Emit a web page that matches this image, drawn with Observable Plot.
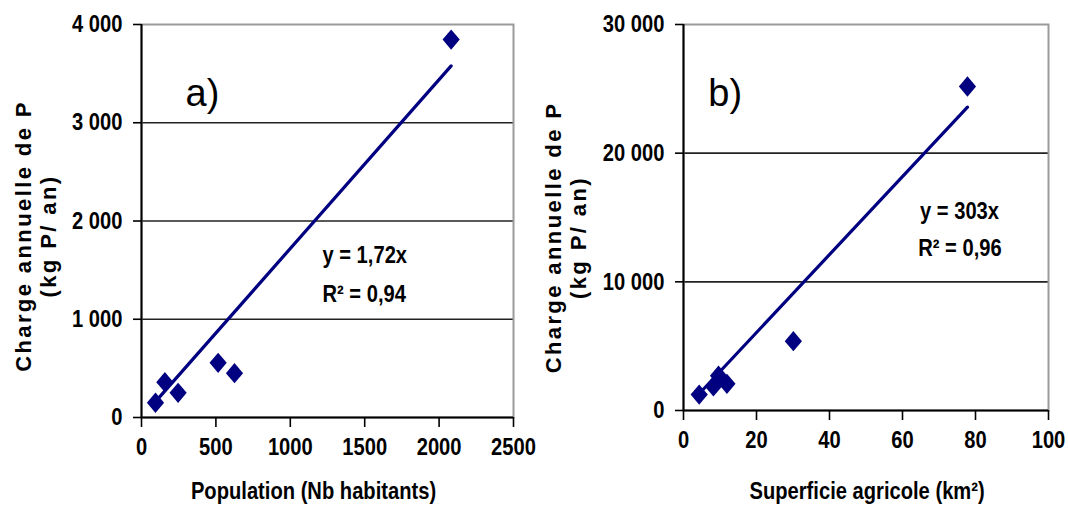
<!DOCTYPE html>
<html>
<head>
<meta charset="utf-8">
<script src="https://cdn.jsdelivr.net/npm/d3@7"></script>
<script src="https://cdn.jsdelivr.net/npm/@observablehq/plot@0.6"></script>
<style>
  html, body { margin: 0; padding: 0; background: white; }
  #wrap { display: flex; width: 1068px; height: 516px; overflow: hidden; background: white; }
  #wrap svg { overflow: visible; }
</style>
</head>
<body>
<div id="wrap"></div>
<script>
// ---- Panel a) data ----
const popA = [94, 157, 246, 515, 625, 2081];
const chargeA = [150, 360, 251, 557, 451, 3847];
const slopeA = 1.72;
const eqA = ["y = 1,72x", "R² = 0,94"];
const xTicksA = [0, 500, 1000, 1500, 2000, 2500];
const yTicksA = [0, 1000, 2000, 3000, 4000];
const yLabelsA = ["0", "1 000", "2 000", "3 000", "4 000"];

// ---- Panel b) data ----
const surfB = [4.3, 8.2, 9.6, 11.9, 30.1, 77.8];
const chargeB = [1240, 1870, 2700, 2075, 5386, 25180];
const slopeB = 303;
const eqB = ["y = 303x", "R² = 0,96"];
const xTicksB = [0, 20, 40, 60, 80, 100];
const yTicksB = [0, 10000, 20000, 30000];
const yLabelsB = ["0", "10 000", "20 000", "30 000"];

const yTitle = "Charge annuelle de P\n(kg P/ an)";
const xTitleA = "Population (Nb habitants)";
const xTitleB = "Superficie agricole (km²)";

const font = "'Liberation Sans', Arial, sans-serif";
const navy = "#000080";
const squeeze = 0.84;

const diamond = {
  draw(ctx, size) {
    const r = Math.sqrt(size / Math.PI);
    const w = r, h = r * 1.18;
    ctx.moveTo(0, -h); ctx.lineTo(w, 0); ctx.lineTo(0, h); ctx.lineTo(-w, 0); ctx.closePath();
  }
};

function panel(cfg) {
  const pts = cfg.xs.map((x, i) => ({x, y: cfg.ys[i]}));
  const xmin = d3.min(cfg.xs), xmax = d3.max(cfg.xs);
  const fit = [xmin, xmax].map(x => ({x, y: cfg.slope * x}));
  const labelMap = new Map(cfg.yTicks.map((t, i) => [t, cfg.yLabels[i]]));
  const svg = Plot.plot({
    width: 534, height: 516,
    marginLeft: cfg.ml, marginRight: cfg.mr, marginTop: 24, marginBottom: cfg.mb,
    style: {fontFamily: font, fontSize: "24px", fontWeight: "bold", background: "none", color: "black", overflow: "visible"},
    x: {domain: cfg.xDomain},
    y: {domain: cfg.yDomain},
    marks: [
      Plot.gridY(cfg.yTicks.slice(1, -1), {stroke: "#222", strokeOpacity: 1, strokeWidth: 1.6}),
      Plot.frame({stroke: "#9a9a9a", strokeWidth: 2}),
      Plot.ruleX([cfg.xDomain[0]], {stroke: "black", strokeWidth: 2}),
      Plot.ruleY([cfg.yDomain[0]], {stroke: "black", strokeWidth: 2}),
      Plot.axisX(cfg.xTicks, {tickSize: 10, tickPadding: 10, label: null, stroke: "black", strokeWidth: 1.6, fill: "black", tickFormat: d => String(d)}),
      Plot.axisY(cfg.yTicks, {tickSize: 8, tickPadding: 11, label: null, stroke: "black", strokeWidth: 1.6, fill: "black", tickFormat: d => labelMap.get(d)}),
      Plot.line(fit, {x: "x", y: "y", stroke: navy, strokeWidth: 3.2}),
      Plot.dot(pts, {x: "x", y: "y", symbol: diamond, r: 8.6, fill: navy, stroke: "none"}),
      Plot.text([cfg.tag], {x: [cfg.tagX], y: [cfg.tagY], text: d => d, textAnchor: "start", fontWeight: "normal", fontSize: 38, fill: "black"}),
      Plot.text(cfg.eq, {x: cfg.eqX, y: cfg.eqY, text: d => d, textAnchor: "start", fill: "black"}),
      Plot.text([cfg.xTitle], {x: [cfg.xTitleX], frameAnchor: "bottom", dy: cfg.xTitleDy, text: d => d, fill: "black"}),
      Plot.text([yTitle], {frameAnchor: "left", rotate: -90, dx: cfg.ytDx, dy: cfg.ytDy, text: d => d, textAnchor: "middle", lineHeight: 1.15, fontSize: 22, fontWeight: "bold", fill: "black"})
    ]
  });
  const root = d3.select(svg);
  root.selectAll("text").each(function() {
    const t = d3.select(this);
    const content = this.textContent;
    if (content.startsWith("Charge")) {
      t.style("letter-spacing", "2.4px");
      return;
    }
    if (content === cfg.tag) return;
    const tr = t.attr("transform");
    if (tr) {
      t.attr("transform", tr + ` scale(${squeeze},1)`);
    } else {
      const x = +t.attr("x") || 0, y = +t.attr("y") || 0;
      t.attr("x", null).attr("y", null).attr("transform", `translate(${x},${y}) scale(${squeeze},1)`);
    }
  });
  return svg;
}

const wrap = document.getElementById("wrap");
wrap.appendChild(panel({
  xs: popA, ys: chargeA, slope: slopeA, eq: eqA,
  xTicks: xTicksA, yTicks: yTicksA, yLabels: yLabelsA,
  xDomain: [0, 2500], yDomain: [0, 4000],
  ml: 141, mr: 21, mb: 99,
  tag: "a)", tagX: 296, tagY: 3298,
  eqX: [1216, 1216], eqY: [1646, 1249],
  xTitle: xTitleA, xTitleX: 1156, xTitleDy: 81,
  ytDx: -106, ytDy: 15
}));
wrap.appendChild(panel({
  xs: surfB, ys: chargeB, slope: slopeB, eq: eqB,
  xTicks: xTicksB, yTicks: yTicksB, yLabels: yLabelsB,
  xDomain: [0, 100], yDomain: [0, 30000],
  ml: 149, mr: 20, mb: 106,
  tag: "b)", tagX: 6.8, tagY: 24637,
  eqX: [64.8, 64.3], eqY: [15443, 12567],
  xTitle: xTitleB, xTitleX: 50.3, xTitleDy: 88,
  ytDx: -118, ytDy: 20
}));
</script>
</body>
</html>
